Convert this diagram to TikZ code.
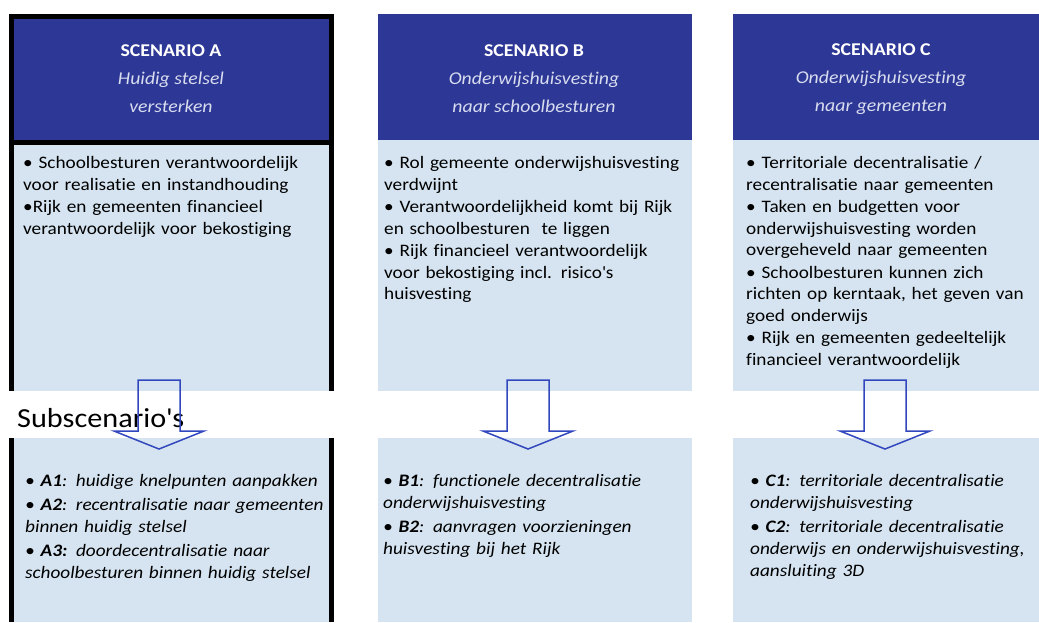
\documentclass[tikz,border=0pt]{standalone}
\usepackage{fontspec}
\setmainfont[FakeStretch=1.1, Ligatures={TeX,NoCommon}]{Carlito}
\definecolor{headblue}{HTML}{2D3795}
\definecolor{bodyblue}{HTML}{D5E4F0}
\definecolor{subgrey}{HTML}{D8DCEF}
\definecolor{arrowblue}{HTML}{3246BE}
\newcommand{\itm}[1]{\par\noindent\hangindent=7pt\hangafter=1\textbullet\ #1}
\newcommand{\itmtight}[1]{\par\noindent\hangindent=7pt\hangafter=1\textbullet#1}
\newcommand{\blockarrow}[1]{\draw[arrow_style] (#1) ++(-21,0) -- ++(0,51) -- ++(-24,0) -- ++(45,18) -- ++(45,-18) -- ++(-24,0) -- ++(0,-51) -- cycle;}
\begin{document}
\begin{tikzpicture}[x=1pt, y=-1pt]
\tikzstyle{head_style} = [fill=headblue, anchor=north west, inner sep=0pt, outer sep=0pt, minimum height=126pt]
\tikzstyle{body_style} = [fill=bodyblue, anchor=north west, inner sep=0pt, outer sep=0pt]
\tikzstyle{title_style} = [align=center, font=\fontsize{18}{28}\selectfont]
\tikzstyle{list_style} = [anchor=north west, inner sep=0pt, text width=310pt, align=left, font=\fontsize{17.5}{21.5}\selectfont]
\tikzstyle{sub_style} = [list_style, font=\fontsize{17.5}{22}\selectfont\itshape]
\tikzstyle{arrow_style} = [draw=arrowblue, line width=1.5pt, line join=miter]
\tikzstyle{border_style} = [draw=black, line width=5pt]

\useasboundingbox (0,0) rectangle (1039,622);
\fill[white] (0,0) rectangle (1039,622);

% upper boxes
\node[head_style, minimum width=320pt] (hA) at (11,16) {};
\node[head_style, minimum width=314pt] (hB) at (378,14) {};
\node[head_style, minimum width=306pt] (hC) at (733,14) {};
\node[body_style, minimum width=320pt, minimum height=249pt] (bA) at (11,142) {};
\node[body_style, minimum width=314pt, minimum height=251pt] (bB) at (378,140) {};
\node[body_style, minimum width=306pt, minimum height=251pt] (bC) at (733,140) {};

% lower boxes
\node[body_style, minimum width=320pt, minimum height=184pt] (sA) at (11,438) {};
\node[body_style, minimum width=314pt, minimum height=184pt] (sB) at (378,438) {};
\node[body_style, minimum width=306pt, minimum height=184pt] (sC) at (733,438) {};

% scenario A frame
\draw[border_style] (hA.south west) -- (hA.north west) -- (hA.north east) -- (hA.south east) -- cycle;
\draw[border_style] (bA.north west) -- (bA.south west);
\draw[border_style] (bA.north east) -- (bA.south east);
\draw[border_style] (sA.north west) -- (sA.south west);
\draw[border_style] (sA.north east) -- (sA.south east);

% titles
\node[title_style] (tA) at (171,79) {\textcolor{white}{\bfseries SCENARIO A}\\\textcolor{subgrey}{\itshape Huidig stelsel}\\\textcolor{subgrey}{\itshape versterken}};
\node[title_style] (tB) at (534,79) {\textcolor{white}{\bfseries SCENARIO B}\\\textcolor{subgrey}{\itshape Onderwijshuisvesting}\\\textcolor{subgrey}{\itshape naar schoolbesturen}};
\node[title_style] (tC) at (881,79) {\textcolor{white}{\bfseries SCENARIO C}\\\textcolor{subgrey}{\itshape Onderwijshuisvesting}\\\textcolor{subgrey}{\itshape naar gemeenten}};

% scenario texts
\node[list_style] (lA) at (23,146) {\setlength{\parskip}{1pt}%
\itm{Schoolbesturen verantwoordelijk\\voor realisatie en instandhouding}
\itmtight{Rijk en gemeenten financieel\\verantwoordelijk voor bekostiging}};
\node[list_style] (lB) at (384,146) {\setlength{\parskip}{1pt}%
\itm{Rol gemeente onderwijshuisvesting\\verdwijnt}
\itm{Verantwoordelijkheid komt bij Rijk\\en schoolbesturen\ \ te liggen}
\itm{Rijk financieel verantwoordelijk\\voor bekostiging incl. risico\textquotesingle s\\huisvesting}};
\node[list_style] (lC) at (746,146) {\setlength{\parskip}{1pt}%
\itm{Territoriale decentralisatie /\\recentralisatie naar gemeenten}
\itm{Taken en budgetten voor\\onderwijshuisvesting worden\\overgeheveld naar gemeenten}
\itm{Schoolbesturen kunnen zich\\richten op kerntaak, het geven van\\goed onderwijs}
\itm{Rijk en gemeenten gedeeltelijk\\financieel verantwoordelijk}};

% subscenario texts
\node[sub_style] (mA) at (25,462) {\setlength{\parskip}{2pt}%
\itm{\textbf{A1}: huidige knelpunten aanpakken}
\itm{\textbf{A2}: recentralisatie naar gemeenten\\binnen huidig stelsel}
\itm{\textbf{A3:} doordecentralisatie naar\\schoolbesturen binnen huidig stelsel}};
\node[sub_style] (mB) at (383,462) {\setlength{\parskip}{2pt}%
\itm{\textbf{B1}: functionele decentralisatie\\onderwijshuisvesting}
\itm{\textbf{B2}: aanvragen voorzieningen\\huisvesting bij het Rijk}};
\node[sub_style] (mC) at (750,462) {\setlength{\parskip}{2pt}%
\itm{\textbf{C1}: territoriale decentralisatie\\onderwijshuisvesting}
\itm{\textbf{C2}: territoriale decentralisatie\\onderwijs en onderwijshuisvesting,\\aansluiting 3D}};

\node[anchor=base west, inner sep=0pt, font=\fontsize{27.5}{33}\selectfont] (sub) at (17,427) {Subscenario\textquotesingle s};

% arrows
\coordinate (aA) at (159,380);
\coordinate (aB) at (528,380);
\coordinate (aC) at (885,380);
\blockarrow{aA}
\blockarrow{aB}
\blockarrow{aC}
\end{tikzpicture}
\end{document}
